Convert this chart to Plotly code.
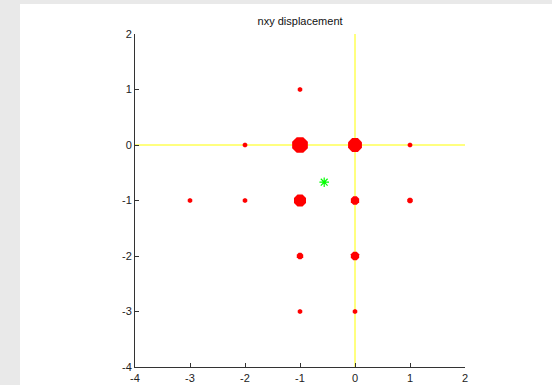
import plotly.graph_objects as go

# Data
px_x = [-1, -2, -1, 0, 1, -3, -2, -1, 0, 1, -1, 0, -1, 0]
px_y = [1, 0, 0, 0, 0, -1, -1, -1, -1, -1, -2, -2, -3, -3]
px_size = [5, 5, 17, 15, 5, 5, 5, 13, 9, 6, 7, 9, 5, 5]
star_x = [-0.56]
star_y = [-0.67]
hline_x = [-4, 2]
hline_y = [0, 0]
vline_x = [0, 0]
vline_y = [-4, 2]
tick_vals = [-4, -3, -2, -1, 0, 1, 2]
tick_text = ["-4", "-3", "-2", "-1", "0", "1", "2"]

fig = go.Figure()
fig.add_trace(go.Scatter(x=hline_x, y=hline_y, mode="lines",
                         line=dict(color="#ffff00", width=1), showlegend=False))
fig.add_trace(go.Scatter(x=vline_x, y=vline_y, mode="lines",
                         line=dict(color="#ffff00", width=1), showlegend=False))
fig.add_trace(go.Scatter(x=px_x, y=px_y, mode="markers",
                         marker=dict(symbol="octagon", size=px_size, color="#ff0000", opacity=1,
                                     line=dict(width=0)), showlegend=False))
fig.add_trace(go.Scatter(x=star_x, y=star_y, mode="markers",
                         marker=dict(symbol="asterisk-open", size=8, color="#00ff00", opacity=1,
                                     line=dict(color="#00ff00", width=1.2)), showlegend=False))

axis_common = dict(range=[-4, 2], tickvals=tick_vals, ticktext=tick_text, ticks="inside", ticklen=4,
                   tickcolor="#333333", showline=True, linecolor="#333333", linewidth=1,
                   showgrid=False, zeroline=False, automargin=False,
                   tickfont=dict(family="Liberation Sans, Arial", size=11, color="#222222"),
                   fixedrange=True)

fig.update_layout(
    width=552, height=385,
    margin=dict(l=135, r=87, t=34, b=18),
    paper_bgcolor="#e9e9e9", plot_bgcolor="white",
    title=dict(text="nxy displacement", x=0.5436, xanchor="center", y=0.945, yanchor="middle",
               font=dict(family="Liberation Sans, Arial", size=11, color="#111111")),
    xaxis=dict(**axis_common, ticklabelstandoff=1),
    yaxis=dict(**axis_common),
    shapes=[dict(type="rect", xref="paper", yref="paper", x0=-0.3485, x1=1.3, y0=-0.06, y1=1.09,
                 fillcolor="white", line=dict(width=0), layer="below")],
)

fig.write_html("out.html", config={"displayModeBar": False},
               post_script="document.body.style.margin='0';document.body.style.background='#e9e9e9';")
